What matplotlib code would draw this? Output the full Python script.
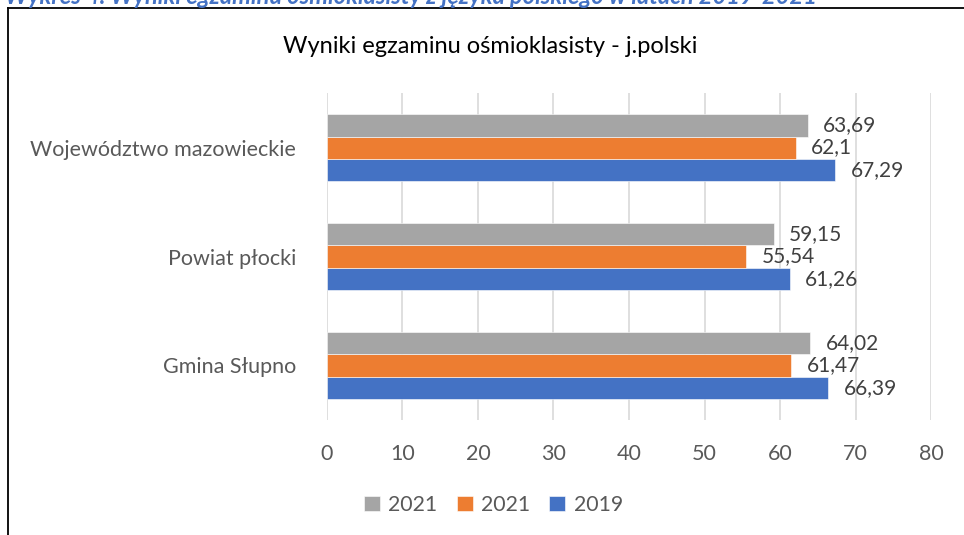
import numpy as np
import matplotlib.pyplot as plt
from matplotlib.lines import Line2D

plt.rcParams['font.family'] = ['Lato', 'DejaVu Sans']

categories = ['Gmina Słupno', 'Powiat płocki', 'Województwo mazowieckie']
v2019 = [66.39, 61.26, 67.29]
v2021b = [61.47, 55.54, 62.1]
v2021a = [64.02, 59.15, 63.69]

series = [
    ('2019', v2019, '#4472C4'),
    ('2021', v2021b, '#ED7D31'),
    ('2021', v2021a, '#A5A5A5'),
]

fig = plt.figure(figsize=(9.64, 5.35), dpi=100)
ax = fig.add_axes([0.339, 0.215, 0.627, 0.611])

y = np.arange(len(categories))
h = 0.203
handles = []
for i, (name, vals, col) in enumerate(series):
    pos = y + (i - 1) * h
    b = ax.barh(pos, vals, height=h, color=col, edgecolor='white', linewidth=0.4, zorder=3)
    handles.append(b)
    for p, v in zip(pos, vals):
        txt = ('%g' % v).replace('.', ',')
        ax.annotate(txt, (v, p), xytext=(11, 0), textcoords='offset points',
                    va='center', ha='left', fontsize=15, color='#404040')

ax.set_xlim(0, 80)
ax.set_ylim(-0.5, 2.5)
ax.set_xticks(range(0, 81, 10))
ax.set_yticks(y)
ax.set_yticklabels(categories)
ax.tick_params(length=0, labelsize=15.5, colors='#595959')
ax.tick_params(axis='x', pad=17)
ax.tick_params(axis='y', pad=22)
ax.grid(axis='x', color='#D9D9D9', linewidth=1.2, zorder=0)
for s in ax.spines.values():
    s.set_visible(False)

fig.text(0.508, 0.914, 'Wyniki egzaminu ośmioklasisty - j.polski', ha='center', va='center',
         fontsize=17, color='black')

fig.legend([handles[2], handles[1], handles[0]], ['2021', '2021', '2019'],
           loc='center', bbox_to_anchor=(0.512, 0.056), ncol=3, frameon=False,
           fontsize=15.3, handlelength=0.75, handleheight=0.75, handletextpad=0.4,
           columnspacing=0.9, labelcolor='#595959')

# cropped caption and frame of the surrounding document
fig.text(0.005, 1 - 4/535, 'Wykres 4. Wyniki egzaminu ośmioklasisty z języka polskiego w latach 2019-2021',
         ha='left', va='baseline', fontsize=17, fontweight='bold', fontstyle='italic',
         color='#4472C4')
fig.add_artist(Line2D([8/964, 1], [1 - 8/535, 1 - 8/535], color='black', linewidth=1.3))
fig.add_artist(Line2D([8/964, 8/964], [0, 1 - 8/535], color='black', linewidth=1.3))

fig.savefig('out.png', dpi=100)
